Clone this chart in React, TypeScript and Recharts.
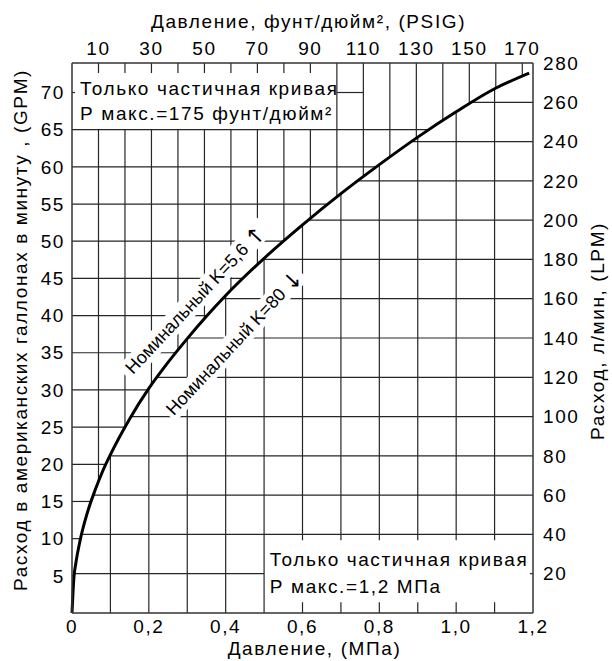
import React from 'react';
import { ComposedChart, Line, XAxis, YAxis, ReferenceLine, ReferenceDot } from 'recharts';

// точки кривой: давление (МПа) -> расход (GPM)
const pressureMpa = [0, 0.005, 0.01, 0.02, 0.04, 0.06, 0.08, 0.1, 0.15, 0.2, 0.25, 0.3, 0.35, 0.4, 0.5, 0.6, 0.7, 0.8, 0.9, 1.0, 1.1, 1.19];
const flowGpm = [0, 4.8, 6.7, 9.5, 13.5, 16.5, 19.1, 21.3, 26.1, 30.2, 33.7, 36.9, 39.9, 42.7, 47.7, 52.2, 56.4, 60.3, 64.0, 67.4, 70.5, 72.6];

// подписи осей
const mpaTicks = [0, 0.2, 0.4, 0.6, 0.8, 1.0, 1.2];
const psiTicks = [10, 30, 50, 70, 90, 110, 130, 150, 170];
const gpmTicks = [5, 10, 15, 20, 25, 30, 35, 40, 45, 50, 55, 60, 65, 70];
const lpmTicks = [20, 40, 60, 80, 100, 120, 140, 160, 180, 200, 220, 240, 260, 280];

// линии сетки
const psiGrid = [10, 20, 30, 40, 50, 60, 70, 80, 90, 100, 110, 120, 130, 140, 150, 160, 170];
const mpaGrid = [0.1, 0.2, 0.3, 0.4, 0.5, 0.6, 0.7, 0.8, 0.9, 1.0, 1.1];

const PSI_PER_MPA = 145.038;
const LPM_PER_GPM = 3.7854;
const MPA_MAX = 1.2;
const LPM_MAX = 280;
const GPM_MAX = LPM_MAX / LPM_PER_GPM;

const FONT = '"Liberation Sans", Arial, Helvetica, sans-serif';
const GRID = '#262626';
const AXIS = { stroke: '#333', strokeWidth: 1.5 };

const data = pressureMpa.map((mpa, i) => ({
  mpa,
  gpm: flowGpm[i],
  psi: mpa * PSI_PER_MPA,
  lpm: flowGpm[i] * LPM_PER_GPM,
}));

// линейная интерполяция по точкам кривой (только для концов линий сетки)
function flowAt(mpa: number) {
  for (let i = 1; i < pressureMpa.length; i++) {
    if (mpa <= pressureMpa[i]) {
      const t = (mpa - pressureMpa[i - 1]) / (pressureMpa[i] - pressureMpa[i - 1]);
      return flowGpm[i - 1] + t * (flowGpm[i] - flowGpm[i - 1]);
    }
  }
  return flowGpm[flowGpm.length - 1];
}

function pressureAt(gpm: number) {
  for (let i = 1; i < flowGpm.length; i++) {
    if (gpm <= flowGpm[i]) {
      const t = (gpm - flowGpm[i - 1]) / (flowGpm[i] - flowGpm[i - 1]);
      return pressureMpa[i - 1] + t * (pressureMpa[i] - pressureMpa[i - 1]);
    }
  }
  return MPA_MAX;
}

type Seg = [number, number, number, number];

// верхняя плашка с текстом: до 100 psi и выше 65 GPM; нижняя: от 0,5 МПа, 1,45..9,8 GPM
const segments: Seg[] = [];
const TOP_BOX_PSI = 100;
const TOP_BOX_GPM = 65;
const LOW_BOX_MPA = 0.5;
const LOW_BOX_TOP = 9.8;
const LOW_BOX_BOTTOM = 1.45;

psiGrid.forEach(p => {
  const m = p / PSI_PER_MPA;
  const c = flowAt(m);
  if (p < TOP_BOX_PSI) {
    segments.push([m, c, m, TOP_BOX_GPM]);
    segments.push([m, GPM_MAX - 1.35, m, GPM_MAX]);
  } else {
    segments.push([m, c, m, GPM_MAX]);
  }
});

gpmTicks.forEach(g => {
  if (g === 70) {
    segments.push([100 / PSI_PER_MPA, g, 110 / PSI_PER_MPA, g]);
    segments.push([0, g, 0.008, g]);
  } else {
    segments.push([0, g, pressureAt(g), g]);
  }
});

mpaGrid.forEach(m => {
  const c = flowAt(m);
  if (m > LOW_BOX_MPA + 0.01) {
    segments.push([m, LOW_BOX_TOP, m, c]);
    segments.push([m, 0, m, LOW_BOX_BOTTOM]);
  } else {
    segments.push([m, 0, m, c]);
  }
});

lpmTicks.forEach(l => {
  if (l === LPM_MAX) return;
  const g = l / LPM_PER_GPM;
  const x0 = pressureAt(g);
  if (l === 20) {
    segments.push([x0, g, LOW_BOX_MPA, g]);
    segments.push([MPA_MAX - 0.008, g, MPA_MAX, g]);
  } else {
    segments.push([x0, g, MPA_MAX, g]);
  }
});

const textStyle = { fontFamily: FONT, fontSize: 19, letterSpacing: 1.6, fill: '#000' };
const tagStyle = { fontFamily: FONT, fontSize: 18, fill: '#000' };

const CurveTag = (props: any) => {
  const { cx, cy, text, arrow, w } = props;
  return (
    <g transform={`rotate(-47 ${cx} ${cy})`}>
      <rect x={cx - w / 2} y={cy - 11} width={w} height={22} fill="#fff" />
      <text x={cx} y={cy} textAnchor="middle" dominantBaseline="central" style={tagStyle}>
        {text}
        <tspan dx={5} style={{ fontSize: 22, fontFamily: '"DejaVu Sans", sans-serif' }}>{arrow}</tspan>
      </text>
    </g>
  );
};

const BoxNote = (props: any) => {
  const { cx, cy, lines, gap } = props;
  return (
    <g>
      {lines.map((s: string, i: number) => (
        <text key={i} x={cx} y={cy + i * gap} dominantBaseline="central" style={textStyle}>{s}</text>
      ))}
    </g>
  );
};

const fmtMpa = (v: number) => (v === 0 ? '0' : v.toFixed(1).replace('.', ','));

export default function App() {
  return (
    <div style={{ position: 'absolute', left: 0, top: 0, width: 612, height: 661, background: '#fff' }}>
      <ComposedChart width={612} height={661} data={data} margin={{ top: 0, right: 0, bottom: 0, left: 0 }}>
        <XAxis
          xAxisId="mpa"
          dataKey="mpa"
          type="number"
          domain={[0, MPA_MAX]}
          ticks={mpaTicks}
          tickFormatter={fmtMpa}
          height={48}
          tickLine={false}
          tickSize={0}
          tickMargin={7}
          axisLine={AXIS}
          tick={textStyle}
          label={{
            content: (p: any) => (
              <text x={p.viewBox.x + p.viewBox.width / 2 + 12} y={655} textAnchor="middle" style={textStyle}>
                Давление, (МПа)
              </text>
            ),
          }}
        />
        <XAxis
          xAxisId="psi"
          dataKey="psi"
          orientation="top"
          type="number"
          domain={[0, MPA_MAX * PSI_PER_MPA]}
          allowDataOverflow
          ticks={psiTicks}
          height={63}
          tickLine={false}
          tickSize={0}
          tickMargin={8}
          axisLine={AXIS}
          tick={textStyle}
          label={{
            content: (p: any) => (
              <text x={p.viewBox.x + p.viewBox.width / 2 + 6} y={28} textAnchor="middle" style={textStyle}>
                Давление, фунт/дюйм², (PSIG)
              </text>
            ),
          }}
        />
        <YAxis
          yAxisId="gpm"
          type="number"
          domain={[0, GPM_MAX]}
          allowDataOverflow
          ticks={gpmTicks}
          width={72}
          tickLine={false}
          tickSize={0}
          tickMargin={7}
          axisLine={AXIS}
          tick={textStyle}
          label={{
            content: () => (
              <text x={27} y={330} transform="rotate(-90 27 330)" textAnchor="middle" style={textStyle}>
                Расход в американских галлонах в минуту , (GPM)
              </text>
            ),
          }}
        />
        <YAxis
          yAxisId="lpm"
          orientation="right"
          type="number"
          domain={[0, LPM_MAX]}
          allowDataOverflow
          ticks={lpmTicks}
          width={79}
          tickLine={false}
          tickSize={0}
          tickMargin={10}
          axisLine={AXIS}
          tick={{ ...textStyle, textAnchor: 'start' }}
          label={{
            content: () => (
              <text x={604} y={331} transform="rotate(-90 604 331)" textAnchor="middle" style={textStyle}>
                Расход, л/мин, (LPM)
              </text>
            ),
          }}
        />

        {segments.map((s, i) => (
          <ReferenceLine
            key={`g${i}`}
            xAxisId="mpa"
            yAxisId="gpm"
            segment={[{ x: s[0], y: s[1] }, { x: s[2], y: s[3] }]}
            stroke={GRID}
            strokeWidth={1.2}
            ifOverflow="visible"
          />
        ))}

        <ReferenceDot
          xAxisId="mpa"
          yAxisId="gpm"
          x={0.021}
          y={70.6}
          r={0}
          ifOverflow="visible"
          shape={(p: any) => (
            <BoxNote cx={p.cx} cy={p.cy} gap={25} lines={['Только частичная кривая', 'Р макс.=175 фунт/дюйм²']} />
          )}
        />
        <ReferenceDot
          xAxisId="mpa"
          yAxisId="gpm"
          x={0.515}
          y={7.26}
          r={0}
          ifOverflow="visible"
          shape={(p: any) => (
            <BoxNote cx={p.cx} cy={p.cy} gap={27} lines={['Только частичная кривая', 'Р макс.=1,2 МПа']} />
          )}
        />
        <ReferenceDot
          xAxisId="mpa"
          yAxisId="gpm"
          x={0.32}
          y={42.1}
          r={0}
          ifOverflow="visible"
          shape={(p: any) => <CurveTag cx={p.cx} cy={p.cy} w={205} text="Номинальный K=5,6" arrow="↑" />}
        />
        <ReferenceDot
          xAxisId="mpa"
          yAxisId="gpm"
          x={0.4217}
          y={36.3}
          r={0}
          ifOverflow="visible"
          shape={(p: any) => <CurveTag cx={p.cx} cy={p.cy} w={195} text="Номинальный K=80" arrow="↓" />}
        />

        {/* невидимая серия, чтобы оси psi и LPM имели данные */}
        <Line
          xAxisId="psi"
          yAxisId="lpm"
          dataKey="lpm"
          stroke="none"
          dot={false}
          activeDot={false}
          legendType="none"
          isAnimationActive={false}
        />
        <Line
          xAxisId="mpa"
          yAxisId="gpm"
          dataKey="gpm"
          type="monotone"
          stroke="#000"
          strokeWidth={3}
          dot={false}
          activeDot={false}
          isAnimationActive={false}
        />
      </ComposedChart>
    </div>
  );
}
